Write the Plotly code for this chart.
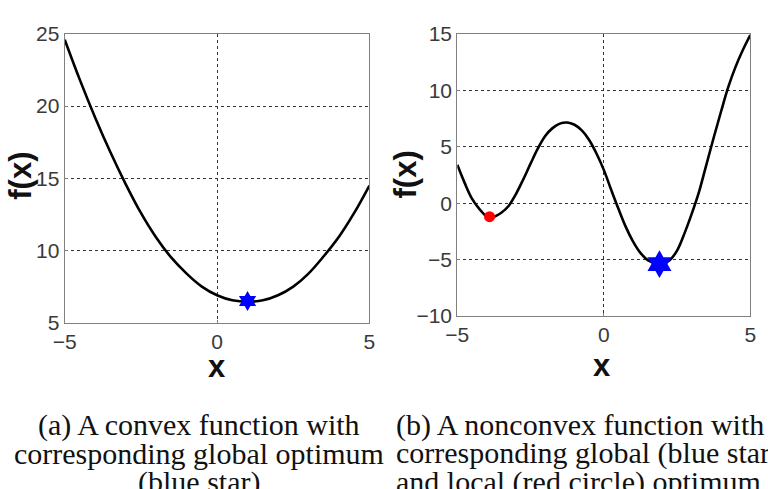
import plotly.graph_objects as go

W, H = 768, 489

# ---- data ----
convex_x = [-5, -4.5, -4, -3.5, -3, -2.5, -2, -1.5, -1, -0.5, 0, 0.5, 1, 1.5, 2, 2.5, 3, 3.5, 4, 4.5, 5]
convex_y = [24.6, 21.8, 19.2, 16.8, 14.6, 12.6, 10.9, 9.5, 8.4, 7.5, 6.9, 6.55, 6.45, 6.55, 6.9, 7.5, 8.4, 9.6, 10.95, 12.6, 14.5]
convex_opt_x = [1.0]
convex_opt_y = [6.5]

nonconvex_x = [-5, -4.75, -4.5, -4.25, -4, -3.75, -3.5, -3.25, -3, -2.75, -2.5, -2.25, -2, -1.75, -1.5, -1.25,
               -1, -0.75, -0.5, -0.25, 0, 0.25, 0.5, 0.75, 1, 1.25, 1.5, 1.75, 2, 2.25, 2.5, 2.75, 3, 3.25,
               3.5, 3.75, 4, 4.25, 4.5, 4.75, 5]
nonconvex_y = [3.4, 1.8, 0.4, -0.5, -1.15, -1.2, -0.85, -0.25, 0.8, 2.1, 3.5, 4.85, 5.95, 6.65, 7.05, 7.15,
               6.95, 6.45, 5.6, 4.4, 2.95, 1.2, -0.5, -2.1, -3.4, -4.4, -5.05, -5.3, -5.35, -5.05, -4.2, -2.7,
               -0.95, 1.0, 3.4, 5.8, 8.1, 10.3, 12.1, 13.6, 14.9]
global_opt_x = [1.9]
global_opt_y = [-5.4]
local_opt_x = [-3.9]
local_opt_y = [-1.2]

x_ticks = [-5, 0, 5]
left_y_ticks = [5, 10, 15, 20, 25]
right_y_ticks = [-10, -5, 0, 5, 10, 15]

caption_a = ["(a) A convex function with", "corresponding global optimum", "(blue star)"]
caption_b = ["(b) A nonconvex function with", "corresponding global (blue star)", "and local (red circle) optimum"]

# ---- figure ----
fig = go.Figure()
fig.add_trace(go.Scatter(x=convex_x, y=convex_y, mode="lines", line=dict(color="black", width=2.6, shape="spline"),
                         xaxis="x", yaxis="y", showlegend=False))
fig.add_trace(go.Scatter(x=convex_opt_x, y=convex_opt_y, mode="markers",
                         marker=dict(symbol="hexagram", size=15, color="#0000ff"), xaxis="x", yaxis="y", showlegend=False))
fig.add_trace(go.Scatter(x=nonconvex_x, y=nonconvex_y, mode="lines", line=dict(color="black", width=2.6, shape="spline"),
                         xaxis="x2", yaxis="y2", showlegend=False))
fig.add_trace(go.Scatter(x=local_opt_x, y=local_opt_y, mode="markers",
                         marker=dict(symbol="circle", size=11, color="#ff0000"), xaxis="x2", yaxis="y2", showlegend=False))
fig.add_trace(go.Scatter(x=global_opt_x, y=global_opt_y, mode="markers",
                         marker=dict(symbol="hexagram", size=21, color="#0000ff"), xaxis="x2", yaxis="y2", showlegend=False))

tickfont = dict(family="Liberation Sans, Arial", size=21, color="#3a3a3a")
common = dict(showline=True, linecolor="#808080", linewidth=1.2, mirror=True,
              showgrid=True, gridcolor="#333333", griddash="dot", gridwidth=1,
              zeroline=False, ticks="inside", ticklen=3, tickcolor="#808080",
              tickfont=tickfont, fixedrange=True)

fig.update_layout(
    width=W, height=H, margin=dict(l=0, r=0, t=0, b=0),
    paper_bgcolor="white", plot_bgcolor="white",
    xaxis=dict(domain=[54 / W, 366 / W], range=[-5, 5], tickvals=x_ticks, anchor="y", **common),
    yaxis=dict(domain=[1 - 326 / H, 1 - 23 / H], range=[5, 25], tickvals=left_y_ticks, anchor="x", **common),
    xaxis2=dict(domain=[456 / W, 756 / W], range=[-5, 5], tickvals=x_ticks, anchor="y2", **common),
    yaxis2=dict(domain=[1 - 319 / H, 1 - 23 / H], range=[-10, 15], tickvals=right_y_ticks, anchor="x2", **common),
)

title_font = dict(family="Liberation Sans, Arial", size=31, color="#111111")
anns = [
    dict(text="<b>x</b>", x=210 / W, y=1 - 372 / H),
    dict(text="<b>x</b>", x=604 / W, y=1 - 371 / H),
    dict(text="<b>f(x)</b>", x=9 / W, y=1 - 172 / H, textangle=-90),
    dict(text="<b>f(x)</b>", x=403 / W, y=1 - 171 / H, textangle=-90),
]
for a in anns:
    fig.add_annotation(xref="paper", yref="paper", showarrow=False, xanchor="center", yanchor="middle",
                       font=title_font, **a)

cap_font = dict(family="Liberation Serif, Times New Roman", size=30, color="#111111")
line_y = [433, 463, 493]
for i, t in enumerate(caption_a):
    fig.add_annotation(text=t, xref="paper", yref="paper", x=191 / W, y=1 - line_y[i] / H, showarrow=False,
                       xanchor="center", yanchor="middle", font=cap_font)
for i, t in enumerate(caption_b):
    fig.add_annotation(text=t, xref="paper", yref="paper", x=391 / W, y=1 - line_y[i] / H, showarrow=False,
                       xanchor="left", yanchor="middle", font=cap_font)

fig.write_html("out.html", config={"displayModeBar": False})
